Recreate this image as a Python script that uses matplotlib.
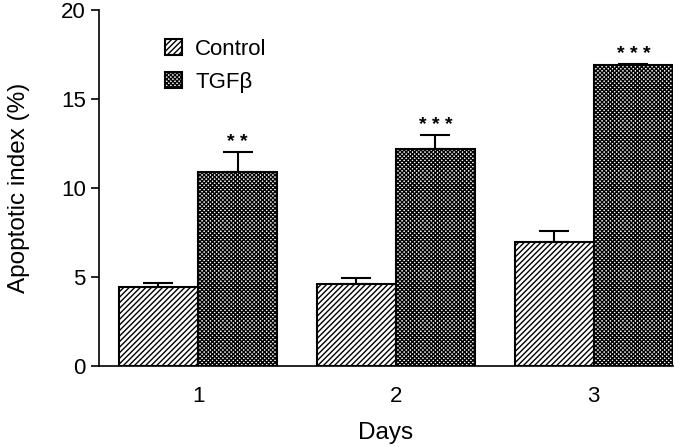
import numpy as np
import matplotlib
matplotlib.use('Agg')
import matplotlib.pyplot as plt

plt.rcParams['font.family'] = ['Liberation Sans', 'DejaVu Sans']
plt.rcParams['hatch.linewidth'] = 1.0

days = ['1', '2', '3']
control = [4.42, 4.6, 6.97]
control_err = [0.22, 0.35, 0.6]
tgfb = [10.9, 12.2, 16.9]
tgfb_err = [1.1, 0.8, 0.08]
stars = ['* *', '* * *', '* * *']

x = np.arange(1, len(days) + 1)
w = 0.4

fig = plt.figure(figsize=(6.93, 4.47), dpi=100)
ax = fig.add_axes([0.143, 0.181, 0.828, 0.797])

ax.bar(x - w / 2, control, w, yerr=[np.zeros(3), control_err], capsize=10.5,
       facecolor='white', edgecolor='black', linewidth=1.5, hatch='//////',
       error_kw=dict(elinewidth=1.5, capthick=1.5), label='Control')
ax.bar(x + w / 2, tgfb, w, yerr=[np.zeros(3), tgfb_err], capsize=10.5,
       facecolor='white', edgecolor='black', linewidth=1.5, hatch='xxxxxxxx',
       error_kw=dict(elinewidth=1.5, capthick=1.5), label='TGFβ')

for xi, v, e, s in zip(x, tgfb, tgfb_err, stars):
    ax.text(xi + w / 2, v + e + 0.05, s, ha='center', va='bottom', fontsize=14,
            fontweight='bold')

ax.set_xlim(0.5, 3.4)
ax.set_ylim(0, 20)
ax.set_yticks([0, 5, 10, 15, 20])
ax.set_xticks(x)
ax.set_xticklabels(days)
ax.tick_params(axis='x', length=0, labelsize=16, pad=14)
ax.tick_params(axis='y', length=6, width=1.2, labelsize=16)
ax.spines['top'].set_visible(False)
ax.spines['right'].set_visible(False)
ax.spines['left'].set_linewidth(1.2)
ax.spines['bottom'].set_linewidth(1.2)

ax.set_xlabel('Days', fontsize=17.5, labelpad=11)
ax.set_ylabel('Apoptotic index (%)', fontsize=17.5, labelpad=22)

ax.legend(loc='upper left', bbox_to_anchor=(0.08, 0.975), frameon=False,
          fontsize=16, handlelength=0.75, handleheight=0.75, handletextpad=0.6,
          labelspacing=0.55)

fig.savefig('out.png', dpi=100)
